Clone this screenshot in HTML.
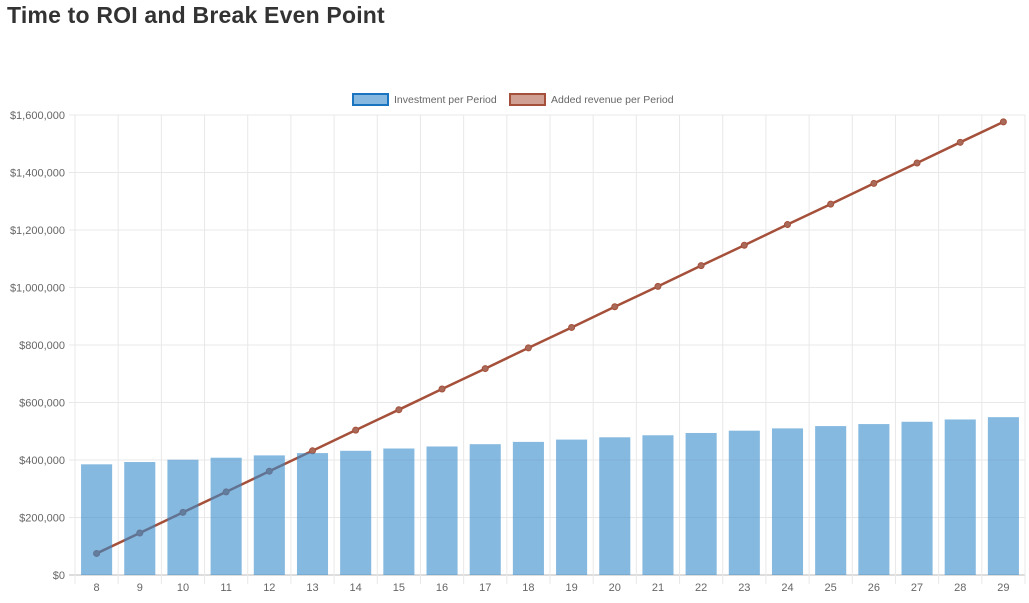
<!DOCTYPE html>
<html><head><meta charset="utf-8"><style>
body{margin:0;background:#fff;width:1029px;height:603px;overflow:hidden;font-family:"Liberation Sans",sans-serif}
h1{position:absolute;left:7px;top:2px;margin:0;font-size:23px;font-weight:bold;color:#333;letter-spacing:0.2px}
</style></head><body>
<h1>Time to ROI and Break Even Point</h1>
<svg id="c" width="1029" height="603" style="position:absolute;left:0;top:0"></svg>
<script>
const categories=[8,9,10,11,12,13,14,15,16,17,18,19,20,21,22,23,24,25,26,27,28,29];
const investment=[385000,393000,401000,408000,416000,424000,432000,440000,447000,455000,463000,471000,479000,486000,494000,502000,510000,518000,525000,533000,541000,549000];
const revenue=[75000,146000,218000,289000,361000,432000,504000,575000,647000,718000,790000,861000,933000,1004000,1076000,1147000,1219000,1290000,1362000,1433000,1505000,1576000];
const yTicks=[0,200000,400000,600000,800000,1000000,1200000,1400000,1600000];
const svg=document.getElementById('c');
const NS='http://www.w3.org/2000/svg';
const L=75,R=1025,T=115,B=575,yMax=1600000;
const bw=(R-L)/categories.length;
const x=i=>L+bw*(i+0.5);
const y=v=>B-(v/yMax)*(B-T);
function mk(t,a,p){const e=document.createElementNS(NS,t);for(const k in a)e.setAttribute(k,a[k]);(p||svg).appendChild(e);return e;}
const fmt=v=>'$'+v.toLocaleString('en-US');
// grid
yTicks.forEach(v=>{
 const g=mk('line',{x1:L-6,x2:R,y1:y(v),y2:y(v),stroke:v===0?'#bbb':'#e8e8e8','stroke-width':1});
 
 
 const t=mk('text',{x:L-10,y:y(v)+4,'text-anchor':'end','font-size':11,fill:'#666'});
 t.textContent=fmt(v);
 
 
});
for(let i=0;i<=categories.length;i++){
 const g=mk('line',{x1:L+bw*i,x2:L+bw*i,y1:T,y2:B+9,stroke:'#e8e8e8','stroke-width':1});
 
 
}
categories.forEach((c,i)=>{
 const t=mk('text',{x:x(i),y:B+16,'text-anchor':'middle','font-size':11,fill:'#666'});
 t.textContent=c;
 
 
});
// line (under bars)
const pl=mk('polyline',{points:revenue.map((v,i)=>x(i)+','+y(v)).join(' '),fill:'none',stroke:'#a5503a','stroke-width':2.5});


revenue.forEach((v,i)=>{
 const p=mk('circle',{cx:x(i),cy:y(v),r:3,fill:'#a96a5a',stroke:'#a5503a'});
 
 
});
investment.forEach((v,i)=>{
 const w=bw*0.72;
 const b=mk('rect',{x:x(i)-w/2,y:y(v),width:w,height:B-y(v),fill:'rgba(54,138,204,0.6)'});
 
 
});
// legend
const lg=mk('g',{});


const r1=mk('rect',{x:353,y:94,width:35,height:11,fill:'#86b8e0',stroke:'#1a74c0','stroke-width':2},lg);


const t1=mk('text',{x:394,y:103,'font-size':10.5,fill:'#666'},lg);t1.textContent='Investment per Period';


const r2=mk('rect',{x:510,y:94,width:35,height:11,fill:'#cfa093',stroke:'#a5503a','stroke-width':2},lg);


const t2=mk('text',{x:551,y:103,'font-size':10.5,fill:'#666'},lg);t2.textContent='Added revenue per Period';


</script>
</body></html>
